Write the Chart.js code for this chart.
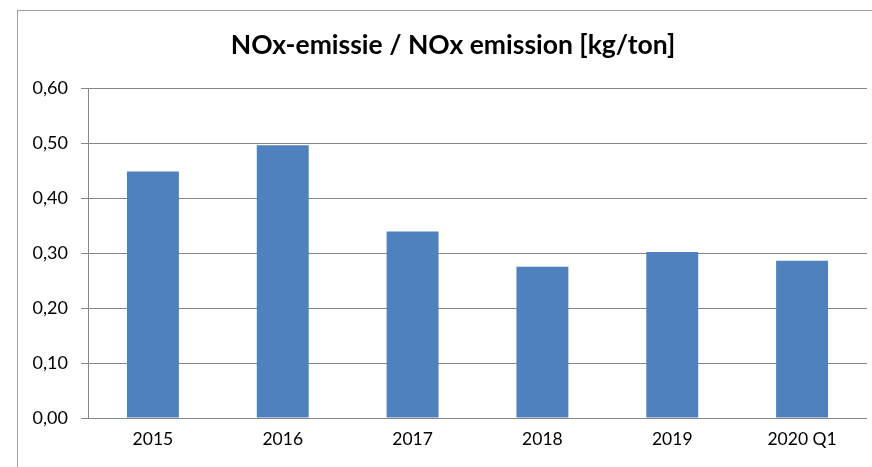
<!DOCTYPE html>
<html>
<head>
<meta charset="utf-8">
<script src="https://cdn.jsdelivr.net/npm/chart.js@4"></script>
<style>
  html, body { margin: 0; padding: 0; background: #fff; }
  #wrap { position: relative; width: 872px; height: 467px; overflow: hidden; }
  #frame { position: absolute; left: 17px; top: 10px; width: 900px; height: 500px; border: 1px solid #a0a0a0; box-sizing: border-box; }
  canvas { position: absolute; left: 0; top: 0; }
</style>
</head>
<body>
<div id="wrap">
  <div id="frame"></div>
  <canvas id="chart" width="872" height="467"></canvas>
</div>
<script>
const categories = ['2015', '2016', '2017', '2018', '2019', '2020 Q1'];
const noxValues = [0.448, 0.496, 0.339, 0.275, 0.302, 0.286];
const titleText = 'NOx-emissie / NOx emission [kg/ton]';

const gridColor = '#868686';
const fontFamily = 'Lato, "Open Sans", sans-serif';
Chart.defaults.font.family = fontFamily;
Chart.defaults.color = '#000';

// title is centred on the outer frame, not on the canvas, so draw it ourselves
const frameTitle = {
  id: 'frameTitle',
  afterDraw(c) {
    let ctx = c.ctx;
    ctx.save();
    ctx.font = 'bold 26.5px ' + fontFamily;
    ctx.fillStyle = '#000';
    ctx.textAlign = 'center';
    ctx.textBaseline = 'alphabetic';
    ctx.fillText(titleText, 453, 54);
    ctx.restore();
  }
};

let chart = new Chart(document.getElementById('chart'), {
  type: 'bar',
  data: {
    labels: categories,
    datasets: [{
      data: noxValues,
      backgroundColor: '#4F81BD',
      borderWidth: 0,
      barPercentage: 0.4,
      categoryPercentage: 1
    }]
  },
  options: {
    responsive: false,
    animation: false,
    layout: { padding: { left: 0, right: 5, top: 88, bottom: 0 } },
    plugins: {
      legend: { display: false },
      tooltip: { enabled: false },
      title: { display: false }
    },
    scales: {
      x: {
        grid: { display: false, drawTicks: false },
        border: { display: false },
        ticks: { font: { size: 17.5 }, padding: 11 },
        afterFit: s => { s.height = 49; }
      },
      y: {
        min: 0,
        max: 0.6,
        ticks: {
          stepSize: 0.1,
          font: { size: 18 },
          padding: 13,
          callback: v => v.toFixed(2).replace('.', ',')
        },
        grid: { color: gridColor, lineWidth: 1, tickLength: 7 },
        border: { display: true, color: gridColor, width: 1 },
        afterFit: s => { s.width = 88; }
      }
    }
  },
  plugins: [frameTitle]
});
</script>
</body>
</html>
